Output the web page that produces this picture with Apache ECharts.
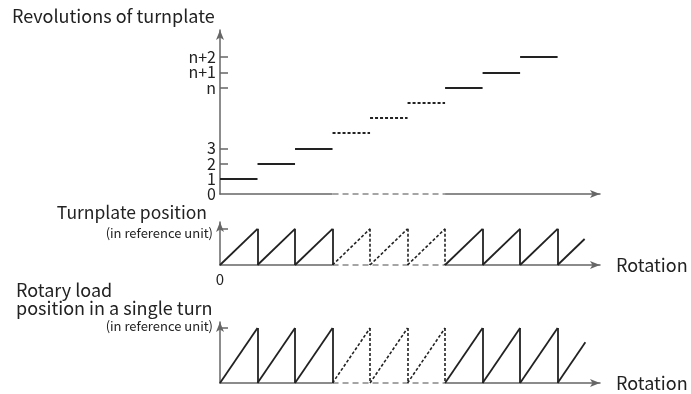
<!DOCTYPE html>
<html>
<head>
<meta charset="utf-8">
<script src="https://cdn.jsdelivr.net/npm/echarts@6/dist/echarts.min.js"></script>
<style>
  html, body { margin: 0; padding: 0; background: #fff; }
  #chart { width: 691px; height: 394px; }
</style>
</head>
<body>
<div id="chart"></div>
<script>
// Turn index (one unit of the rotation axis per turnplate revolution)
const turns = [1, 2, 3, 4, 5, 6, 7, 8, 9];
// Revolution count held during each turn
const revolutions = [1, 2, 3, 4, 5, 6, 7, 8, 9];
// Turns drawn dashed (the elided middle of the sequence)
const elidedTurns = [4, 5, 6];
// Revolution axis labels
const revTickValues = [0, 1, 2, 3, 7, 8, 9];
const revTickLabels = ['0', '1', '2', '3', 'n', 'n+1', 'n+2'];
// Position reached at the end of each turn (in reference units)
const turnplatePeaks = [1, 1, 1, 1, 1, 1, 1, 1, 1];
const loadPeaks = [1, 1, 1, 1, 1, 1, 1, 1, 1];
// Position reached on the last, unfinished turn
const turnplateLast = 0.72;
const loadLast = 0.74;

const FONT = 'Noto Sans CJK SC';
const AXIS = '#666';
const INK = '#222';
const X_MAX = 10.13;
const REV_MAX = 10.78;

function stepItems() {
  return turns.map((t, i) => ({
    coords: [[t - 1, revolutions[i]], [t, revolutions[i]]],
    lineStyle: elidedTurns.includes(t)
      ? { type: [3, 2], width: 2, color: INK }
      : { type: 'solid', width: 2, color: INK }
  }));
}

function sawItems(peaks, last) {
  const items = [];
  turns.forEach((t, i) => {
    const dashed = elidedTurns.includes(t);
    const style = dashed
      ? { type: [3, 2], width: 1.6, color: INK }
      : { type: 'solid', width: 1.8, color: INK };
    items.push({ coords: [[t - 1, 0], [t, peaks[i]]], lineStyle: style });
    items.push({ coords: [[t, peaks[i]], [t, 0]], lineStyle: style });
  });
  const lastT = turns[turns.length - 1];
  items.push({
    coords: [[lastT, 0], [lastT + last, last]],
    lineStyle: { type: 'solid', width: 1.8, color: INK }
  });
  return items;
}

// Baseline of the elided section: white cover + dashed grey segment
function elidedBase(gridIdx) {
  const a = elidedTurns[0] - 1, b = elidedTurns[elidedTurns.length - 1];
  return [
    {
      type: 'lines', coordinateSystem: 'cartesian2d', xAxisIndex: gridIdx, yAxisIndex: gridIdx,
      clip: false, z: 3, silent: true,
      lineStyle: { color: '#fff', width: 4, opacity: 1 },
      data: [{ coords: [[a, 0], [b, 0]] }]
    },
    {
      type: 'lines', coordinateSystem: 'cartesian2d', xAxisIndex: gridIdx, yAxisIndex: gridIdx,
      clip: false, z: 4, silent: true,
      lineStyle: { color: '#888', width: 1.5, type: [6, 4], opacity: 1 },
      data: [{ coords: [[a, 0], [b, 0]] }]
    }
  ];
}

const axisLine = {
  show: true,
  symbol: ['none', 'arrow'],
  symbolSize: [6, 10],
  lineStyle: { color: AXIS, width: 1.5 }
};

function xAxis(gridIndex, withName, zeroLabel) {
  return {
    type: 'value', gridIndex, min: 0, max: X_MAX,
    axisLine,
    axisTick: { show: false },
    splitLine: { show: false },
    axisLabel: zeroLabel
      ? { show: true, customValues: [0], formatter: () => '0', margin: 7, hideOverlap: false,
          showMinLabel: true, color: INK, fontFamily: FONT, fontSize: 15 }
      : { show: false },
    name: withName ? 'Rotation' : '',
    nameLocation: 'end',
    nameGap: 16,
    nameTextStyle: { color: INK, fontFamily: FONT, fontSize: 18, align: 'left', verticalAlign: 'middle', padding: [0, 0, 4, 0] }
  };
}

function yAxis(gridIndex, max, tickVals) {
  return {
    type: 'value', gridIndex, min: 0, max, position: 'left',
    axisLine,
    axisTick: { show: true, inside: true, length: 8, customValues: tickVals,
                lineStyle: { color: AXIS, width: 1.5 } },
    splitLine: { show: false },
    axisLabel: { show: false }
  };
}

// Label-only companion axis for the revolution scale; the labels are split
// across two of them so neighbouring labels are all kept.
function revLabelAxis(values) {
  return {
    type: 'value', gridIndex: 0, min: 0, max: REV_MAX, position: 'left', offset: 0,
    axisLine: { show: false },
    axisTick: { show: false },
    splitLine: { show: false },
    axisLabel: {
      show: true, customValues: values, margin: 4, hideOverlap: false,
      showMinLabel: true, showMaxLabel: true,
      formatter: (v) => revTickLabels[revTickValues.indexOf(Math.round(v))] || '',
      color: INK, fontFamily: FONT, fontSize: 16
    }
  };
}

const chart = echarts.init(document.getElementById('chart'), null, { renderer: 'canvas' });
chart.setOption({
  animation: false,
  backgroundColor: '#fff',
  grid: [
    { left: 220, width: 380, top: 30, height: 164 },
    { left: 220, width: 380, top: 222, height: 43 },
    { left: 220, width: 380, top: 322, height: 61 }
  ],
  xAxis: [xAxis(0, false, false), xAxis(1, true, true), xAxis(2, true, false)],
  yAxis: [
    yAxis(0, REV_MAX, [1, 2, 3, 7, 8, 9]),
    yAxis(1, 1.19, [1]),
    yAxis(2, 1.11, [1]),
    revLabelAxis(revTickValues.filter((v, i) => i % 2 === 0)),
    revLabelAxis(revTickValues.filter((v, i) => i % 2 === 1))
  ],
  graphic: [
    { type: 'text', left: 12, top: 7, style: { text: 'Revolutions of turnplate', fill: INK, font: '18px "' + FONT + '"' } },
    { type: 'text', right: 484, top: 204, style: { text: 'Turnplate position', fill: INK, font: '17.5px "' + FONT + '"' } },
    { type: 'text', right: 478, top: 227, style: { text: '(in reference unit)', fill: INK, font: '13px "' + FONT + '"' } },
    { type: 'text', left: 16, top: 281, style: { text: 'Rotary load', fill: INK, font: '18px "' + FONT + '"' } },
    { type: 'text', left: 16, top: 299, style: { text: 'position in a single turn', fill: INK, font: '18px "' + FONT + '"' } },
    { type: 'text', right: 478, top: 320, style: { text: '(in reference unit)', fill: INK, font: '13px "' + FONT + '"' } }
  ],
  series: [
    ...elidedBase(0),
    { type: 'lines', coordinateSystem: 'cartesian2d', xAxisIndex: 0, yAxisIndex: 0, clip: false, z: 5,
      lineStyle: { opacity: 1 }, data: stepItems() },
    ...elidedBase(1),
    { type: 'lines', coordinateSystem: 'cartesian2d', xAxisIndex: 1, yAxisIndex: 1, clip: false, z: 5,
      lineStyle: { opacity: 1 }, data: sawItems(turnplatePeaks, turnplateLast) },
    ...elidedBase(2),
    { type: 'lines', coordinateSystem: 'cartesian2d', xAxisIndex: 2, yAxisIndex: 2, clip: false, z: 5,
      lineStyle: { opacity: 1 }, data: sawItems(loadPeaks, loadLast) }
  ]
});
</script>
</body>
</html>
